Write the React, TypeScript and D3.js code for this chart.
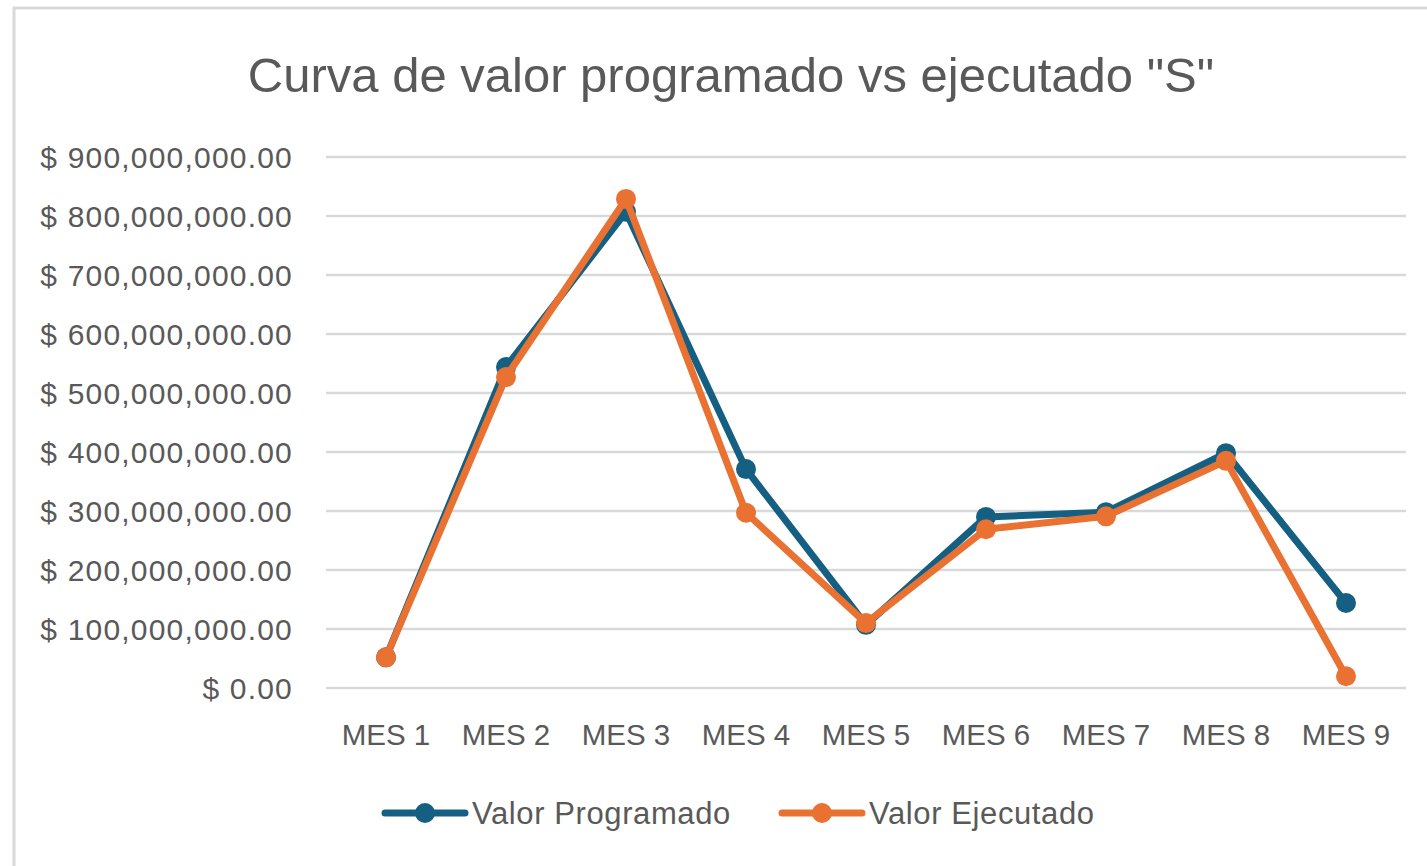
import React from "react";
import * as d3 from "d3";

const categories = ["MES 1", "MES 2", "MES 3", "MES 4", "MES 5", "MES 6", "MES 7", "MES 8", "MES 9"];
const valorProgramado = [52e6, 544e6, 807e6, 371e6, 107e6, 290e6, 298e6, 398e6, 144e6];
const valorEjecutado = [52e6, 527e6, 829e6, 297e6, 110e6, 269e6, 291e6, 385e6, 20e6];
const yTicks = [0, 100e6, 200e6, 300e6, 400e6, 500e6, 600e6, 700e6, 800e6, 900e6];
const seriesNames = ["Valor Programado", "Valor Ejecutado"];
const seriesColors = ["#156082", "#E97132"];

const W = 1427;
const H = 866;
const FONT = "'Liberation Sans', Arial, sans-serif";
const TEXT = "#595959";

export default function App() {
  const x = d3.scaleBand<string>().domain(categories).range([326, 1406]);
  const y = d3.scaleLinear().domain([0, 900e6]).range([688, 157]);
  const cx = (c: string) => (x(c) ?? 0) + x.bandwidth() / 2;
  const line = d3
    .line<number>()
    .x((_, i) => cx(categories[i]))
    .y((d) => y(d));
  const fmt = (v: number) => "$ " + d3.format(",.2f")(v);
  const series = [valorProgramado, valorEjecutado];

  return (
    <svg
      width={W}
      height={H}
      style={{ position: "absolute", left: 0, top: 0, background: "#fff" }}
      fontFamily={FONT}
    >
      <rect x={14} y={8} width={1440} height={900} fill="#fff" stroke="#d9d9d9" strokeWidth={3} />
      <text x={731} y={92} textAnchor="middle" fontSize={49} fill={TEXT}>
        Curva de valor programado vs ejecutado "S"
      </text>
      {yTicks.map((t) => (
        <g key={t}>
          <line x1={326} x2={1406} y1={y(t)} y2={y(t)} stroke="#d9d9d9" strokeWidth={2.5} />
          <text x={293} y={y(t)} dy="0.35em" textAnchor="end" fontSize={30} fill={TEXT} letterSpacing={1.2}>
            {fmt(t)}
          </text>
        </g>
      ))}
      {categories.map((c) => (
        <text key={c} x={cx(c)} y={745} textAnchor="middle" fontSize={29.5} fill={TEXT}>
          {c}
        </text>
      ))}
      {series.map((s, si) => (
        <g key={si}>
          <path d={line(s) ?? ""} fill="none" stroke={seriesColors[si]} strokeWidth={7} strokeLinejoin="round" strokeLinecap="round" />
          {s.map((v, i) => (
            <circle key={i} cx={cx(categories[i])} cy={y(v)} r={10} fill={seriesColors[si]} />
          ))}
        </g>
      ))}
      {seriesNames.map((n, i) => {
        const lx = i === 0 ? 385 : 782;
        return (
          <g key={n}>
            <line x1={lx} x2={lx + 80} y1={813} y2={813} stroke={seriesColors[i]} strokeWidth={7} strokeLinecap="round" />
            <circle cx={lx + 40} cy={813} r={10} fill={seriesColors[i]} />
            <text x={lx + 87} y={813} dy="0.35em" fontSize={31} fill={TEXT} letterSpacing={0.6}>
              {n}
            </text>
          </g>
        );
      })}
    </svg>
  );
}
